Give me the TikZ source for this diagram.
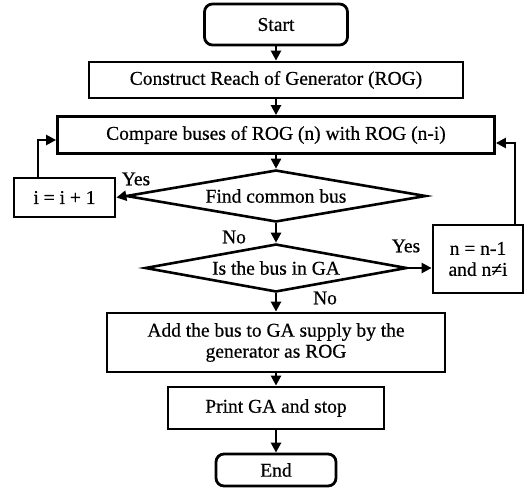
\documentclass[tikz,border=0pt]{standalone}
\usepackage{fontspec}
\setmainfont{Liberation Serif}[FakeBold=0.6]
\usetikzlibrary{shapes.geometric,arrows.meta,calc}
\begin{document}
\begin{tikzpicture}[x=1pt,y=-1pt,
  every node/.style={font=\fontsize{19.5}{21}\selectfont},
  box/.style={draw,line width=2.8pt,rectangle,inner sep=2pt,align=center},
  term/.style={box,rounded corners=8pt},
  decision/.style={draw,line width=2.6pt,diamond,inner sep=0pt,aspect=5.8},
  lbl/.style={inner sep=0pt},
  arr/.style={line width=2.4pt,-{Triangle[length=10pt,width=10pt]}},
  ln/.style={line width=2.4pt}]
\useasboundingbox (0,0) rectangle (529,489);

\node[term,minimum width=143,minimum height=41] (start) at (276,24.5) {Start};
\node[box,minimum width=374,minimum height=36] (rog) at (276,80) {Construct Reach of Generator (ROG)};
\node[box,minimum width=437,minimum height=37] (cmp) at (276,135) {Compare buses of ROG (n) with ROG (n-i)};
\node[decision,minimum width=300,minimum height=52] (d1) at (276,196) {Find common bus};
\node[box,minimum width=101,minimum height=39] (inc) at (64.5,197.5) {i = i + 1};
\node[decision,minimum width=262,minimum height=48] (d2) at (276,268) {Is the bus in GA};
\node[box,minimum width=90,minimum height=68] (dec) at (478,259) {n = n-1\\and n≠i};
\node[box,minimum width=338,minimum height=59] (add) at (276,342.5) {Add the bus to GA supply by the\\generator as ROG};
\node[box,minimum width=216,minimum height=42] (prt) at (276,408) {Print GA and stop};
\node[term,minimum width=120,minimum height=32] (fin) at (276,470) {End};

\node[lbl] (y1) at (136,179) {Yes};
\node[lbl] (n1) at (234,237) {No};
\node[lbl] (y2) at (406,246) {Yes};
\node[lbl] (n2) at (325,298) {No};

\coordinate (lx) at (38,140);
\coordinate (rx) at (515,143);

\draw[arr] (start) -- (rog);
\draw[arr] (rog) -- (cmp);
\draw[arr] (cmp) -- (d1);
\draw[arr] (d1.west) -- (inc.east);
\draw[arr] (lx |- inc.north) |- (lx -| cmp.west);
\draw[arr] (d1) -- (d2);
\draw[arr] (d2.east) -- (d2.east -| dec.west);
\draw[arr] (rx |- dec.north) |- (rx -| cmp.east);
\draw[arr] (d2) -- (add);
\draw[arr] (add) -- (prt);
\draw[arr] (prt) -- (fin);
\end{tikzpicture}
\end{document}
